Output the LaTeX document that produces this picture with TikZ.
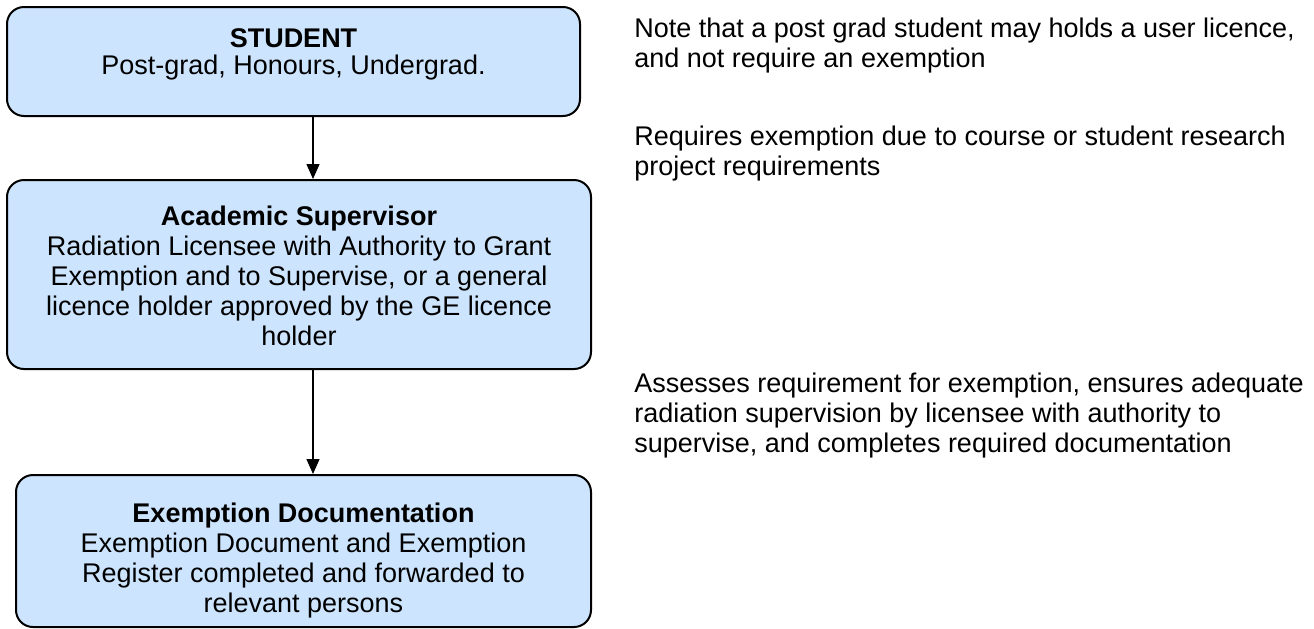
\documentclass[tikz,border=0pt]{standalone}
\usepackage{fontspec}
\setmainfont{Liberation Sans}
\usetikzlibrary{arrows.meta}

\definecolor{boxfill}{RGB}{204,228,253}

\tikzset{
	box/.style     = {draw, fill = boxfill, line width = 1pt, rounded corners = 8.5pt, inner sep = 0pt},
	boxtext/.style = {align = center, anchor = north, inner sep = 0pt},
	note/.style    = {align = left, anchor = north west, inner sep = 0pt},
	flow/.style    = {line width = 0.7pt, -{Triangle[length = 7.5pt, width = 6.5pt]}}
}

\begin{document}
\begin{tikzpicture}[x = 0.5pt, y = -0.5pt, font = \fontsize{13.5}{15}\selectfont]
	\useasboundingbox (0,0) rectangle (1314,628);

	% the three steps
	\node[box, minimum width = 286.5pt, minimum height = 54.5pt] (student) at (293.5,61.5) {};
	\node[box, minimum width = 292pt, minimum height = 94.5pt] (super) at (299,274.5) {};
	\node[box, minimum width = 287.5pt, minimum height = 76pt] (docs) at (303.5,551) {};

	\node[boxtext, font = \fontsize{13.5}{13.5}\selectfont] (studenttxt) at (293.5,28.5) {\textbf{STUDENT}\\Post-grad, Honours, Undergrad.};
	\node[boxtext] (supertxt) at (299,205.5) {\textbf{Academic Supervisor}\\
		Radiation Licensee with Authority to Grant\\
		Exemption and to Supervise, or a general\\
		licence holder approved by the GE licence\\
		holder};
	\node[boxtext] (docstxt) at (303.5,502.5) {\textbf{Exemption Documentation}\\
		Exemption Document and Exemption\\
		Register completed and forwarded to\\
		relevant persons};

	% arrows between the steps
	\coordinate (axis) at (313,0);
	\draw[flow] (student.south -| axis) -- (super.north -| axis);
	\draw[flow] (super.south -| axis) -- (docs.north -| axis);

	% notes on the right
	\node[note] (note1) at (634,18) {Note that a post grad student may holds a user licence,\\and not require an exemption};
	\node[note] (note2) at (634,126) {Requires exemption due to course or student research\\project requirements};
	\node[note] (note3) at (634,373) {Assesses requirement for exemption, ensures adequate\\radiation supervision by licensee with authority to\\supervise, and completes required documentation};
\end{tikzpicture}
\end{document}
